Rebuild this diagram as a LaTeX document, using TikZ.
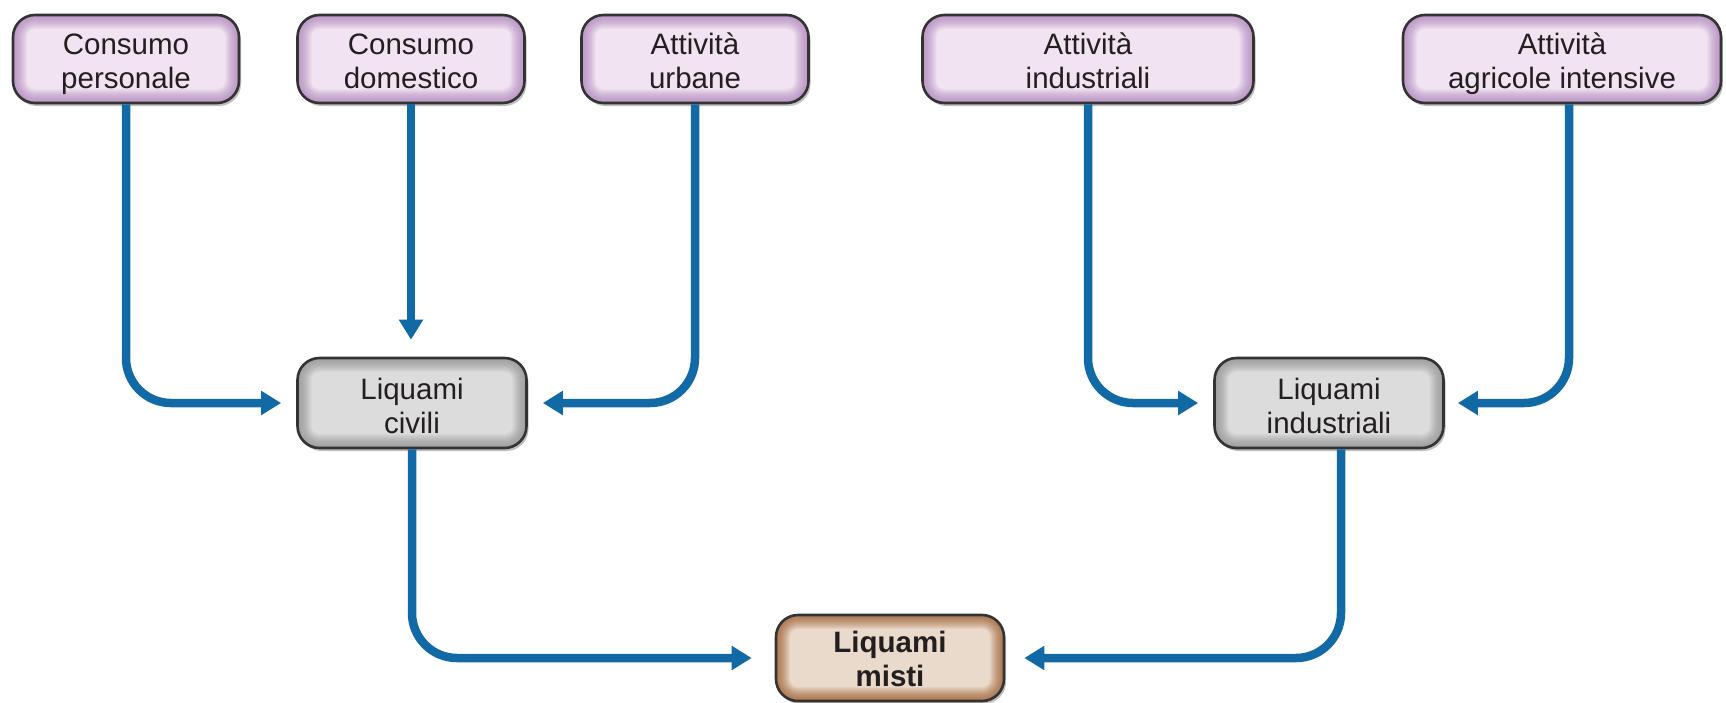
\documentclass[tikz,border=0pt]{standalone}
\usepackage{fontspec}
\setmainfont{Liberation Sans}
\usetikzlibrary{arrows.meta,shadows}
\definecolor{purpEdge}{HTML}{BE9CC8}
\definecolor{purpIn}{HTML}{F1E3F1}
\definecolor{grayEdge}{HTML}{A2A2A2}
\definecolor{grayIn}{HTML}{DCDCDC}
\definecolor{brownEdge}{HTML}{B07E58}
\definecolor{brownIn}{HTML}{EADACB}
\definecolor{borderc}{HTML}{333333}
\definecolor{flowc}{HTML}{1169A6}
\definecolor{txt}{HTML}{231F20}
\tikzset{
  glow/.style 2 args={
    fill=#1,
    path picture={
      \foreach \i in {1,...,14}{
        \pgfmathtruncatemacro\pct{min(100,100*(\i/14)^1.6)}
        \fill[#2!\pct!#1, rounded corners={max(2,22-\i*1.0)*1pt}]
          ([shift={(\i*1.0pt,-\i*1.0pt)}]path picture bounding box.north west)
          rectangle
          ([shift={(-\i*1.0pt,\i*1.0pt)}]path picture bounding box.south east);
      }
    }},
  box/.style={draw=borderc, line width=2.6pt, rounded corners=22pt,
    inner sep=0pt, align=center, text=txt,
    text height=61pt, text depth=3pt,
    font=\fontsize{29.5}{34}\selectfont,
    drop shadow={shadow xshift=2pt, shadow yshift=-3pt, opacity=0.25, fill=black}},
  srcbox/.style={box, glow={purpEdge}{purpIn}, minimum height=88pt},
  midbox/.style={box, glow={grayEdge}{grayIn}, minimum width=229pt, minimum height=90pt,
    text height=62pt, text depth=2pt},
  endbox/.style={box, glow={brownEdge}{brownIn}, minimum width=228pt, minimum height=86pt,
    text height=61pt, text depth=4pt,
    font=\fontsize{29.5}{34}\selectfont\bfseries},
  flow/.style={draw=flowc, line width=8.5pt, rounded corners=45pt,
    -{Triangle[length=20pt,width=23pt]}, shorten >=15pt},
}
\begin{document}
\begin{tikzpicture}[x=1pt,y=-1pt]
\useasboundingbox (0,0) rectangle (1726,702);

\node[srcbox, minimum width=226pt] (p1) at (126,59) {Consumo\\personale};
\node[srcbox, minimum width=227pt] (p2) at (411,59) {Consumo\\domestico};
\node[srcbox, minimum width=227pt] (p3) at (695,59) {Attività\\urbane};
\node[srcbox, minimum width=331pt] (p4) at (1088,59) {Attività\\industriali};
\node[srcbox, minimum width=318pt] (p5) at (1562,59) {Attività\\agricole intensive};

\node[midbox] (civ) at (412,403) {Liquami\\civili};
\node[midbox] (ind) at (1329,403) {Liquami\\industriali};

\node[endbox] (mis) at (890,658) {Liquami\\misti};

\draw[flow] (p1.south) |- (civ.west);
\draw[flow, shorten >=17pt] (p2.south) -- (p2.south |- civ.north);
\draw[flow] (p3.south) |- (civ.east);
\draw[flow] (p4.south) |- (ind.west);
\draw[flow, shorten >=13pt] ([xshift=7pt]p5.south) |- (ind.east);
\draw[flow, shorten >=23pt] (civ.south) |- (mis.west);
\draw[flow, shorten >=19pt] ([xshift=12pt]ind.south) |- (mis.east);
\end{tikzpicture}
\end{document}
